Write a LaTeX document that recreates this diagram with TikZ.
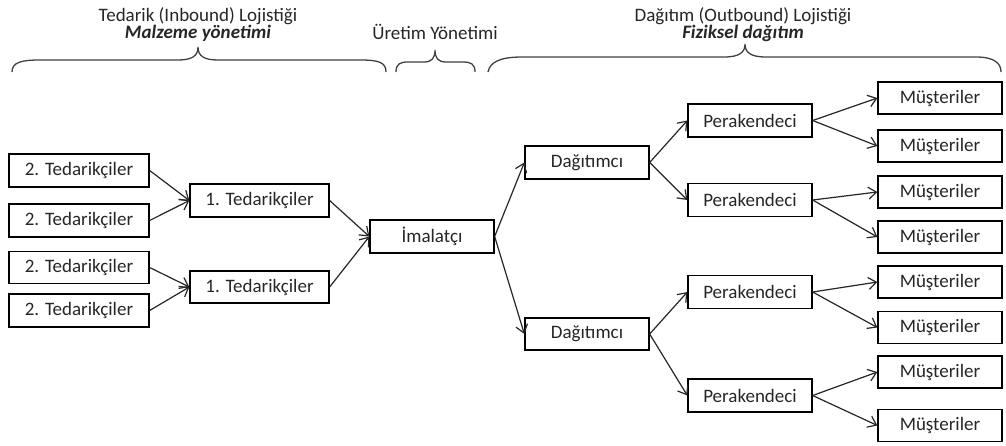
\documentclass[tikz,border=0pt]{standalone}
\usepackage{fontspec}
\setmainfont{Carlito}
\usetikzlibrary{arrows.meta}
\begin{document}
\begin{tikzpicture}[x=1pt,y=-1pt,
  box/.style={draw=black,line width=1.3pt,inner sep=0pt,minimum height=33pt,
              font=\fontsize{19}{22}\selectfont,text=black!85},
  wideb/.style={box,minimum width=140pt},
  midb/.style={box,minimum width=124pt},
  link/.style={draw=black!85,line width=1.2pt,-{Straight Barb[length=8pt,width=12pt,line width=1.2pt]}},
  bracket/.style={draw=black!75,line width=1.3pt},
  head/.style={font=\fontsize{19}{17}\selectfont,text=black!85,align=center,inner sep=0pt}]
\useasboundingbox (0,0) rectangle (1006,445);

% section headings
\node[head] (h1) at (198,25) {Tedarik (Inbound) Lojistiği\\\textbf{\textit{Malzeme yönetimi}}};
\node[head] (h2) at (435,32) {Üretim Yönetimi};
\node[head] (h3) at (743,25) {Dağıtım (Outbound) Lojistiği\\\textbf{\textit{Fiziksel dağıtım}}};

% curly brackets under the headings
\draw[bracket] (12,72) .. controls (12,62) and (22,60) .. (40,60) -- (178,60)
  .. controls (192,60) and (198,56) .. (198,47)
  .. controls (198,56) and (204,60) .. (218,60) -- (360,60)
  .. controls (378,60) and (386,62) .. (386,72);
\draw[bracket] (396,72) .. controls (396,64) and (400,62) .. (408,62) -- (424,62)
  .. controls (432,62) and (435,58) .. (435,50)
  .. controls (435,58) and (438,62) .. (446,62) -- (463,62)
  .. controls (471,62) and (475,64) .. (475,72);
\draw[bracket] (488,72) .. controls (490,62) and (500,57) .. (522,57) -- (724,57)
  .. controls (740,57) and (745,52) .. (745,44)
  .. controls (745,52) and (750,57) .. (766,57) -- (976,57)
  .. controls (994,57) and (1001,63) .. (1001,72);

% second-tier suppliers
\node[wideb] (t2a) at (79,170.5) {2. Tedarikçiler};
\node[wideb] (t2b) at (79,220.5) {2. Tedarikçiler};
\node[wideb,minimum height=32pt] (t2c) at (79,267.5) {2. Tedarikçiler};
\node[wideb] (t2d) at (79,310.5) {2. Tedarikçiler};

% first-tier suppliers
\node[box,minimum width=139pt] (t1a) at (259.5,200.5) {1. Tedarikçiler};
\node[box,minimum width=139pt,minimum height=32pt] (t1b) at (259.5,287) {1. Tedarikçiler};

% manufacturer
\node[midb] (im) at (432,236.5) {İmalatçı};

% distributors
\node[midb] (da) at (587,162.5) {Dağıtımcı};
\node[midb,minimum height=32pt] (db) at (587,334) {Dağıtımcı};

% retailers
\node[midb] (pa) at (750,120.5) {Perakendeci};
\node[midb] (pb) at (750,200) {Perakendeci};
\node[midb] (pc) at (750,292) {Perakendeci};
\node[midb] (pd) at (750,395.5) {Perakendeci};

% customers
\node[midb,minimum height=32pt] (m1) at (940,98) {Müşteriler};
\node[midb,minimum height=32pt] (m2) at (940,146) {Müşteriler};
\node[midb,minimum height=32pt] (m3) at (940,192) {Müşteriler};
\node[midb,minimum height=32pt] (m4) at (940,237) {Müşteriler};
\node[midb,minimum height=32pt] (m5) at (940,282) {Müşteriler};
\node[midb,minimum height=32pt] (m6) at (940,327.5) {Müşteriler};
\node[midb,minimum height=32pt] (m7) at (940,372) {Müşteriler};
\node[midb,minimum height=32pt] (m8) at (940,425.5) {Müşteriler};

% flows
\draw[link] (t2a.east) -- (t1a.west);
\draw[link] (t2b.east) -- (t1a.west);
\draw[link] (t2c.east) -- (t1b.west);
\draw[link] (t2d.east) -- (t1b.west);
\draw[link] (t1a.east) -- (im.west);
\draw[link] (t1b.east) -- (im.west);
\draw[link] (im.east) -- (da.west);
\draw[link] (im.east) -- (db.west);
\draw[link] (da.east) -- (pa.west);
\draw[link] (da.east) -- (pb.west);
\draw[link] (db.east) -- (pc.west);
\draw[link] (db.east) -- (pd.west);
\draw[link] (pa.east) -- (m1.west);
\draw[link] (pa.east) -- (m2.west);
\draw[link] (pb.east) -- (m3.west);
\draw[link] (pb.east) -- (m4.west);
\draw[link] (pc.east) -- (m5.west);
\draw[link] (pc.east) -- (m6.west);
\draw[link] (pd.east) -- (m7.west);
\draw[link] (pd.east) -- (m8.west);
\end{tikzpicture}
\end{document}
